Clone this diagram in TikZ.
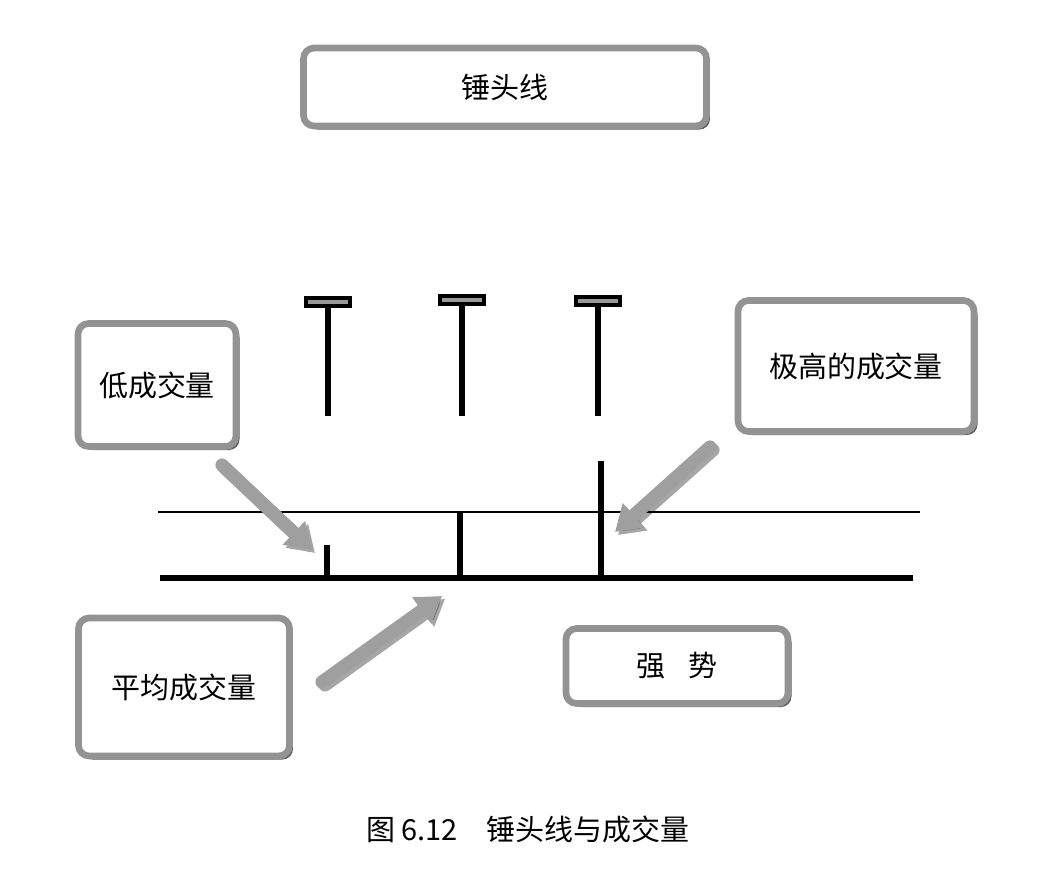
\documentclass[tikz,border=0pt]{standalone}
\usepackage{fontspec}
\newfontfamily\cjk{Noto Sans CJK SC}
\usetikzlibrary{arrows.meta,shadows}

\begin{document}
\begin{tikzpicture}[x=0.02cm, y=-0.02cm,
    box/.style={draw=gray!85, line width=3.8pt, rounded corners=6pt, fill=white,
        font=\cjk\fontsize{16.5}{19}\selectfont,
        drop shadow={shadow xshift=2pt, shadow yshift=-2pt, opacity=0.75, fill=black!85}},
    pointer/.style={line width=7.5pt, line cap=round, draw=gray!75,
        -{Triangle[length=0.5cm, width=0.62cm]}},
    pshadow/.style={line width=7.5pt, line cap=round, draw=black, opacity=0.35,
        -{Triangle[length=0.5cm, width=0.62cm]}}]
    \useasboundingbox (0,0) rectangle (1055,880);
    % boxes
    \node[box, minimum width=8.06cm, minimum height=1.56cm] (hammer) at (505,87) {锤头线};
    \node[box, minimum width=3.16cm, minimum height=2.46cm] (low) at (157,385) {低成交量};
    \node[box, minimum width=4.72cm, minimum height=2.62cm] (high) at (856,366) {极高的成交量};
    \node[box, minimum width=4.22cm, minimum height=2.76cm] (avg) at (184,687) {平均成交量};
    \node[box, minimum width=4.44cm, minimum height=1.50cm] (strong) at (677,666) {强\hspace{0.8em}势};
    % hammers
    \foreach \x/\t in {328/302, 462/300, 598/301} {
        \draw[line width=3.2pt] (\x,\t+5) -- (\x,416);
        \draw[line width=2pt, fill=gray!80] (\x-22,\t-4) rectangle (\x+22,\t+4);
    }
    % volume
    \draw[line width=1.2pt] (158,512) -- (920,512);
    \draw[line width=3pt] (160,578) -- (913,578);
    \draw[line width=3.2pt] (327,545) -- (327,578);
    \draw[line width=3.2pt] (460,512) -- (460,578);
    \draw[line width=3.2pt] (601,461) -- (601,578);
    % arrows
    \coordinate (lowS) at (222,465);
    \coordinate (lowE) at (312,550);
    \coordinate (highS) at (710,447);
    \coordinate (highE) at (615,532);
    \coordinate (avgS) at (322,682);
    \coordinate (avgE) at (442,596);
    \foreach \s/\e in {lowS/lowE, highS/highE, avgS/avgE} {
        \draw[pshadow] ([shift={(3,3)}]\s) -- ([shift={(3,3)}]\e);
        \draw[pointer] (\s) -- (\e);
    }
    % caption
    \node[font=\cjk\fontsize{16.5}{19}\selectfont] (caption) at (528,829) {图 6.12\quad 锤头线与成交量};
\end{tikzpicture}
\end{document}
